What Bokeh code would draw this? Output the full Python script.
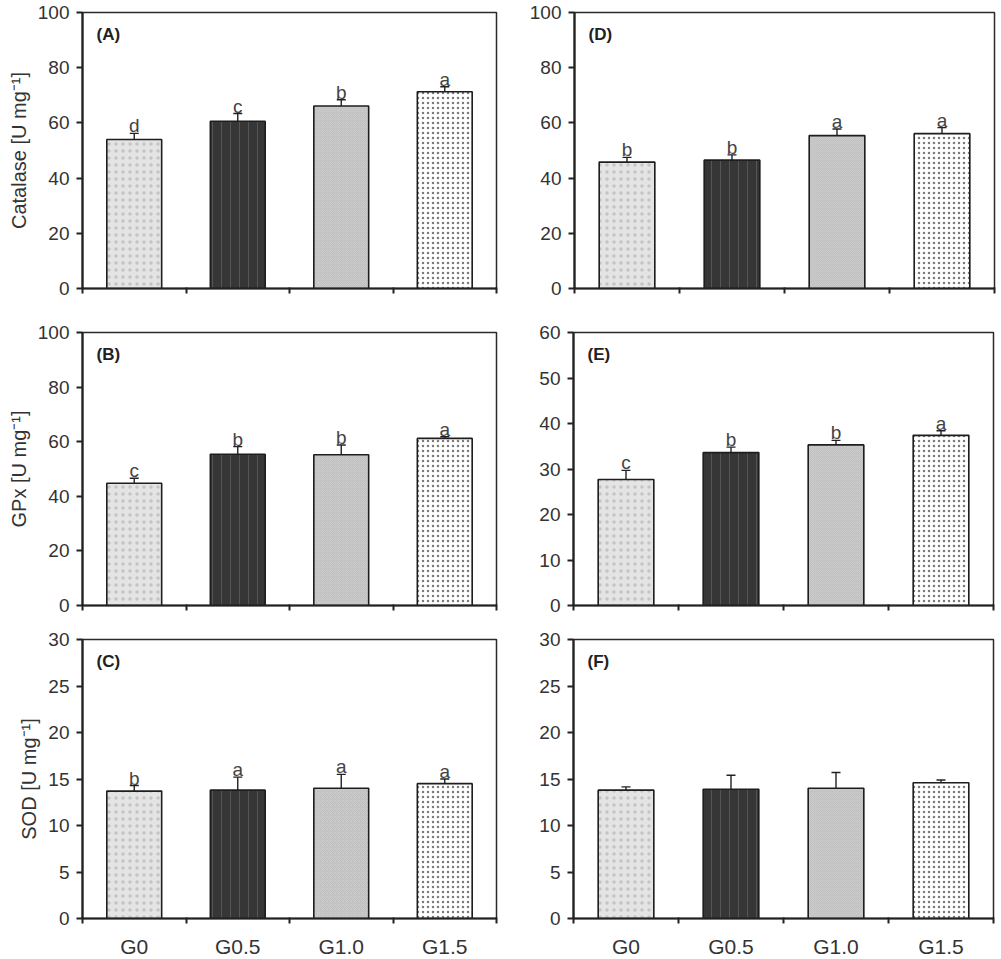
from bokeh.plotting import figure
from bokeh.layouts import column, row
from bokeh.models import ColumnDataSource, FixedTicker, Whisker, TeeHead, Range1d, Label
from bokeh.embed import file_html
from bokeh.resources import INLINE
from bokeh.core.properties import value

groups = ["G0", "G0.5", "G1.0", "G1.5"]

# Panel A: Catalase (left)
cat_a = [54.0, 60.6, 66.1, 71.3]
cat_a_err = [2.2, 2.8, 2.3, 1.8]
cat_a_let = ["d", "c", "b", "a"]
# Panel D: Catalase (right)
cat_d = [45.8, 46.5, 55.4, 56.1]
cat_d_err = [1.7, 1.9, 2.4, 2.2]
cat_d_let = ["b", "b", "a", "a"]
# Panel B: GPx (left)
gpx_b = [44.8, 55.4, 55.2, 61.2]
gpx_b_err = [1.8, 2.8, 3.6, 0.6]
gpx_b_let = ["c", "b", "b", "a"]
# Panel E: GPx (right)
gpx_e = [27.7, 33.6, 35.3, 37.4]
gpx_e_err = [2.0, 1.2, 1.0, 1.0]
gpx_e_let = ["c", "b", "b", "a"]
# Panel C: SOD (left)
sod_c = [13.7, 13.8, 14.0, 14.5]
sod_c_err = [0.6, 1.4, 1.5, 0.5]
sod_c_let = ["b", "a", "a", "a"]
# Panel F: SOD (right)
sod_f = [13.8, 13.9, 14.0, 14.6]
sod_f_err = [0.35, 1.5, 1.7, 0.3]
sod_f_let = ["", "", "", ""]

yticks_100 = [0, 20, 40, 60, 80, 100]
yticks_60 = [0, 10, 20, 30, 40, 50, 60]
yticks_30 = [0, 5, 10, 15, 20, 25, 30]

# bar styles
fills = ["#e4e4e4", "#363636", "#c2c2c2", "#ffffff"]
hatches = ["dot", "vertical_line", "diagonal_cross", "dot"]
hatch_cols = ["#c4c4c4", "#555555", "#d2d2d2", "#7a7a7a"]
hatch_scales = [7, 9, 4, 5]
hatch_weights = [1.0, 1.0, 0.6, 1.6]

FONT = "Liberation Sans"
TXT = "#333333"


def panel(tag, vals, errs, lets, yticks, ylabel, left, rowcfg, bottom_row):
    ymax = yticks[-1]
    n = len(groups)
    xs = [i + 0.5 for i in range(n)]
    tops = [v + e for v, e in zip(vals, errs)]
    src = ColumnDataSource(dict(x=xs, top=vals, up=tops, lab=lets, g=groups,
                                fill=fills, hatch=hatches, hcol=hatch_cols,
                                hscale=hatch_scales, hw=hatch_weights))
    mb_top, fh, mb_bot = rowcfg
    if left:
        mbl, fw, mbr = 82, 414, 30
    else:
        mbl, fw, mbr = 47, 420, 4
    p = figure(output_backend="svg", toolbar_location=None,
               x_range=Range1d(0, n), y_range=Range1d(0, ymax),
               frame_width=fw, frame_height=fh,
               min_border_left=mbl, min_border_right=mbr,
               min_border_top=mb_top, min_border_bottom=mb_bot)
    p.grid.visible = False
    p.outline_line_color = "#2a2a2a"
    p.outline_line_width = 1.5
    p.background_fill_color = "white"

    p.vbar(x="x", top="top", bottom=0, width=0.53, source=src,
           fill_color="fill", hatch_pattern="hatch", hatch_color="hcol",
           hatch_scale="hscale", hatch_weight="hw",
           line_color="#1e1e1e", line_width=1.6)
    w = Whisker(base="x", lower="top", upper="up", source=src, dimension="height",
                line_color="#222222", line_width=1.4,
                upper_head=TeeHead(size=9, line_color="#222222", line_width=1.4),
                lower_head=None)
    p.add_layout(w)
    p.text(x="x", y="up", text="lab", source=src, text_align="center",
           text_baseline="bottom", y_offset=3,
           text_font=value(FONT), text_font_size=value("19px"), text_color="#444444")

    p.add_layout(Label(x=0, y=ymax, x_offset=14, y_offset=-12, text=tag,
                       text_baseline="top", text_font=FONT, text_font_size="17px",
                       text_font_style="bold", text_color="#222222"))

    ya = p.yaxis[0]
    ya.ticker = FixedTicker(ticks=yticks)
    ya.major_tick_out = 6
    ya.major_tick_in = 0
    ya.major_tick_line_width = 2
    ya.major_tick_line_color = "#222222"
    ya.minor_tick_line_color = None
    ya.axis_line_width = 2.2
    ya.axis_line_color = "#222222"
    ya.major_label_text_font = FONT
    ya.major_label_text_font_size = "19px"
    ya.major_label_text_color = TXT
    ya.major_label_standoff = 7
    if ylabel:
        ya.axis_label = ylabel
        ya.axis_label_text_font = FONT
        ya.axis_label_text_font_size = "20px"
        ya.axis_label_text_font_style = "normal"
        ya.axis_label_text_color = TXT
        ya.axis_label_standoff = 5

    xa = p.xaxis[0]
    if bottom_row:
        xa.ticker = FixedTicker(ticks=xs, minor_ticks=list(range(n + 1)))
        xa.major_label_overrides = {x: g for x, g in zip(xs, groups)}
    else:
        xa.ticker = FixedTicker(ticks=[], minor_ticks=list(range(n + 1)))
    xa.major_tick_line_color = None
    xa.minor_tick_out = 5
    xa.minor_tick_in = 1
    xa.minor_tick_line_width = 2
    xa.minor_tick_line_color = "#222222"
    xa.axis_line_width = 2.2
    xa.axis_line_color = "#222222"
    xa.major_label_text_font = FONT
    xa.major_label_text_font_size = "21px"
    xa.major_label_text_color = TXT
    xa.major_label_standoff = 10
    return p


r1 = (12, 276, 20)
r2 = (24, 273, 14)
r3 = (20, 279, 38)
ylab_cat = "Catalase [U mg\u207b\u00b9]"
ylab_gpx = "GPx [U mg\u207b\u00b9]"
ylab_sod = "SOD [U mg\u207b\u00b9]"

pA = panel("(A)", cat_a, cat_a_err, cat_a_let, yticks_100, ylab_cat, True, r1, False)
pD = panel("(D)", cat_d, cat_d_err, cat_d_let, yticks_100, None, False, r1, False)
pB = panel("(B)", gpx_b, gpx_b_err, gpx_b_let, yticks_100, ylab_gpx, True, r2, False)
pE = panel("(E)", gpx_e, gpx_e_err, gpx_e_let, yticks_60, None, False, r2, False)
pC = panel("(C)", sod_c, sod_c_err, sod_c_let, yticks_30, ylab_sod, True, r3, True)
pF = panel("(F)", sod_f, sod_f_err, sod_f_let, yticks_30, None, False, r3, True)

layout = column(row(pA, pD), row(pB, pE), row(pC, pF))
open("out.html", "w").write(file_html(layout, INLINE))
